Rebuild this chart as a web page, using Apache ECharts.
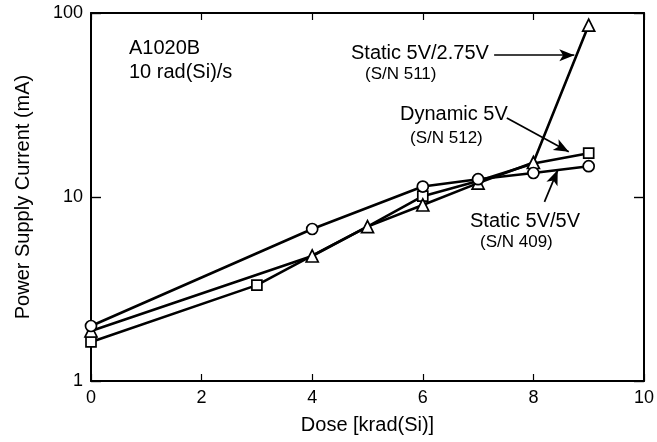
<!DOCTYPE html>
<html>
<head>
<meta charset="utf-8">
<script src="https://cdn.jsdelivr.net/npm/echarts@6/dist/echarts.min.js"></script>
<style>html,body{margin:0;padding:0;background:#fff;}#c{width:657px;height:442px;}</style>
</head>
<body>
<div id="c"></div>
<script>
// Static 5V/5V (S/N 409) - circles
const doseStatic55 = [0, 4, 6, 7, 8, 9];
const currentStatic55 = [1.99, 6.7, 11.4, 12.5, 13.5, 14.7];
// Dynamic 5V (S/N 512) - squares
const doseDynamic = [0, 3, 4, 5, 6, 7, 8, 9];
const currentDynamic = [1.63, 3.32, 4.8, 6.9, 10.1, 12.2, 15.2, 17.3];
// Static 5V/2.75V (S/N 511) - triangles
const doseStatic275 = [0, 4, 5, 6, 7, 8, 9];
const currentStatic275 = [1.87, 4.78, 6.9, 9.05, 11.9, 15.4, 86];

const xTicks = [0, 2, 4, 6, 8, 10];
const yTicks = [1, 10, 100];

// annotation arrows in data coordinates: [x0, y0, x1, y1]
const arrow511 = [7.29, 59, 8.74, 59];
const arrow512 = [7.52, 26.9, 8.64, 17.6];
const arrow409 = [8.2, 9.4, 8.44, 14.0];

const FONT = '"Liberation Sans", Arial, Helvetica, sans-serif';

function pairs(xs, ys) { return xs.map((x, i) => [x, ys[i]]); }

function hiddenUnderTriangle(v) {
  const j = doseStatic275.indexOf(v[0]);
  if (j < 0) return false;
  return Math.abs(Math.log10(v[1] / currentStatic275[j])) < 0.04;
}

const chart = echarts.init(document.getElementById('c'), null, {renderer: 'canvas'});

const lineStyle = {color: '#000', width: 2.6};
const itemStyle = {color: '#fff', borderColor: '#000', borderWidth: 1.7};

function arrowLine(a) {
  return {
    silent: true,
    symbol: ['none', 'arrow'],
    symbolSize: [9, 15],
    lineStyle: {color: '#000', width: 1.7, type: 'solid'},
    label: {show: false},
    emphasis: {disabled: true},
    data: [[{coord: [a[0], a[1]]}, {coord: [a[2], a[3]]}]]
  };
}

chart.setOption({
  animation: false,
  backgroundColor: '#fff',
  grid: {left: 91, right: 9, top: 13, bottom: 61, containLabel: false},
  xAxis: [{
    type: 'value', min: 0, max: 10, interval: 2, position: 'bottom',
    name: 'Dose [krad(Si)]', nameLocation: 'middle', nameGap: 34,
    nameTextStyle: {color: '#000', fontSize: 20, fontFamily: FONT},
    axisLine: {show: true, lineStyle: {color: '#000', width: 2}},
    axisTick: {show: true, inside: true, length: 7, lineStyle: {color: '#000', width: 1.2}},
    axisLabel: {color: '#000', fontSize: 18, fontFamily: FONT, margin: 8,
      formatter: v => xTicks.includes(v) ? String(v) : ''},
    splitLine: {show: false}
  }, {
    type: 'value', min: 0, max: 10, interval: 2, position: 'top',
    axisLine: {show: true, onZero: false, lineStyle: {color: '#000', width: 2}},
    axisTick: {show: true, inside: true, length: 7, lineStyle: {color: '#000', width: 1.2}},
    axisLabel: {show: false},
    splitLine: {show: false}
  }],
  yAxis: [{
    type: 'log', logBase: 10, min: 1, max: 100, position: 'left',
    name: 'Power Supply Current (mA)', nameLocation: 'middle', nameGap: 58, nameRotate: 90,
    nameTextStyle: {color: '#000', fontSize: 20, fontFamily: FONT},
    axisLine: {show: true, lineStyle: {color: '#000', width: 2}},
    axisTick: {show: true, inside: true, length: 10, lineStyle: {color: '#000', width: 1.4}},
    minorTick: {show: false},
    axisLabel: {color: '#000', fontSize: 18, fontFamily: FONT, margin: 8,
      formatter: v => yTicks.includes(Math.round(v)) ? String(Math.round(v)) : ''},
    splitLine: {show: false}
  }, {
    type: 'log', logBase: 10, min: 1, max: 100, position: 'right',
    axisLine: {show: true, onZero: false, lineStyle: {color: '#000', width: 2}},
    axisTick: {show: true, inside: true, length: 10, lineStyle: {color: '#000', width: 1.4}},
    axisLabel: {show: false},
    splitLine: {show: false}
  }],
  series: [{
    name: 'Dynamic 5V (S/N 512)', type: 'line', data: pairs(doseDynamic, currentDynamic),
    symbol: (v) => hiddenUnderTriangle(v) ? 'none' : 'rect', symbolSize: 10,
    lineStyle, itemStyle, z: 2,
    markLine: arrowLine(arrow512)
  }, {
    name: 'Static 5V/2.75V (S/N 511)', type: 'line', data: pairs(doseStatic275, currentStatic275),
    symbol: 'triangle', symbolSize: 12, lineStyle, itemStyle, z: 3,
    markLine: arrowLine(arrow511)
  }, {
    name: 'Static 5V/5V (S/N 409)', type: 'line', data: pairs(doseStatic55, currentStatic55),
    symbol: 'circle', symbolSize: 11, lineStyle, itemStyle, z: 4,
    markLine: arrowLine(arrow409)
  }],
  graphic: [
    {type: 'text', left: 129, top: 38, style: {text: 'A1020B', font: '20px ' + FONT, fill: '#000'}},
    {type: 'text', left: 129, top: 62, style: {text: '10 rad(Si)/s', font: '20px ' + FONT, fill: '#000'}},
    {type: 'text', left: 351, top: 43, style: {text: 'Static 5V/2.75V', font: '20px ' + FONT, fill: '#000'}},
    {type: 'text', left: 365, top: 66, style: {text: '(S/N 511)', font: '17px ' + FONT, fill: '#000'}},
    {type: 'text', left: 400, top: 104, style: {text: 'Dynamic 5V', font: '20px ' + FONT, fill: '#000'}},
    {type: 'text', left: 410, top: 130, style: {text: '(S/N 512)', font: '17px ' + FONT, fill: '#000'}},
    {type: 'text', left: 470, top: 211, style: {text: 'Static 5V/5V', font: '20px ' + FONT, fill: '#000'}},
    {type: 'text', left: 480, top: 234, style: {text: '(S/N 409)', font: '17px ' + FONT, fill: '#000'}}
  ]
});
</script>
</body>
</html>
